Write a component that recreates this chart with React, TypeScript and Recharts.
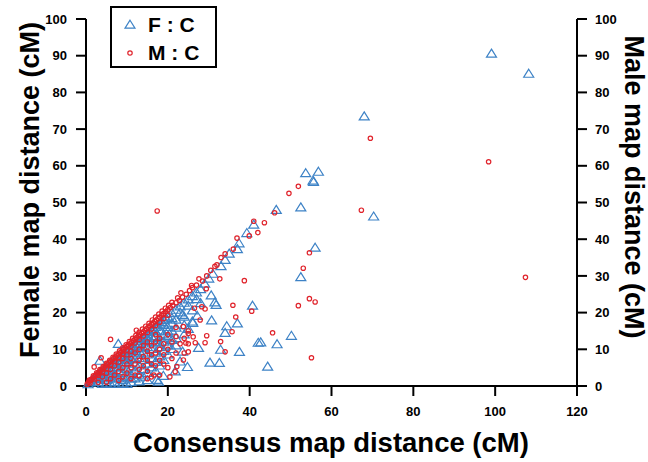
import React from 'react';
import { ScatterChart, Scatter, XAxis, YAxis, Legend, Label } from 'recharts';

// [consensus cM, female cM]
const fcAlongDiagonal: [number, number][] = [
  [0.5, 0.4], [1, 0.9], [1.5, 1.4], [2, 1.8], [2.5, 2.3], [3, 2.8], [3.5, 3.3], [4, 3.7],
  [4.5, 4.2], [5, 4.7], [5.5, 5.1], [6, 5.6], [6.5, 6.1], [7, 6.5], [7.5, 7.0], [8, 7.5],
  [8.5, 8.0], [9, 8.4], [9.5, 8.9], [10, 9.4], [10.5, 9.9], [11, 10.3], [11.5, 10.8], [12, 11.3],
  [12.5, 11.7], [13, 12.2], [13.5, 12.7], [14, 13.1], [14.5, 13.6], [15, 14.1], [15.5, 14.6],
  [16, 15], [16.5, 15.5], [17, 16], [17.5, 16.4], [18, 16.9], [18.5, 17.4], [19, 17.9],
  [19.5, 18.3], [20, 18.8], [21, 19.8], [22, 20.7], [23, 21.6], [24, 22.6], [25, 23.5],
  [26, 24.4], [27, 25.4], [28, 26.3], [29, 27.8], [30, 29.2], [31, 30.5], [33, 32.6],
  [34, 34.3], [35, 36], [37, 37.2], [37.4, 38.8], [39.3, 41.6], [41, 43.9],
  [3, 2], [5, 4], [7, 5.8], [9, 7.8], [11, 9.6], [13, 11.4], [15, 13], [17, 14.8], [19, 16.6],
  [21, 18.4], [23, 20], [25, 21.8], [27, 23.6],
];

const fcBelowDiagonal: [number, number][] = [
  [3, 1], [4, 0.5], [4, 2], [5, 1.5], [5, 3], [6, 0.5], [6, 2.5], [6, 4], [7, 1], [7, 3], [7, 5],
  [8, 0.5], [8, 2], [8, 4], [8, 6], [9, 1.5], [9, 3.5], [9, 5.5], [9, 7], [10, 0.5], [10, 2.5],
  [10, 4.5], [10, 6.5], [10, 8], [11, 1], [11, 3], [11, 5], [11, 7.5], [11, 9], [12, 2], [12, 4],
  [12, 6], [12, 8.5], [12, 10], [13, 3], [13, 5.5], [13, 7.5], [13, 9.5], [13, 11], [14, 2.5],
  [14, 4.5], [14, 7], [14, 9], [14, 11.5], [15, 3.5], [15, 6], [15, 8.5], [15, 10.5], [15, 12.5],
  [16, 5], [16, 7.5], [16, 10], [16, 12], [17, 4], [17, 6.5], [17, 9], [17, 11.5], [17, 13.5],
  [18, 5.5], [18, 8], [18, 10.5], [18, 13], [18, 15], [19, 7], [19, 9.5], [19, 12], [19, 14],
  [20, 8.5], [20, 11], [20, 13.5], [20, 16], [21, 10], [21, 12.5], [21, 15], [21, 17], [22, 11],
  [22, 13], [22, 18], [24, 14], [24, 16.5], [25, 15.5], [26, 17.5], [17.3, 1.6], [17.7, 1.1],
  [18.9, 2.7], [21.8, 3.9], [23, 6.6], [24.8, 5.1], [23.6, 9.3], [27.5, 10.3], [30.3, 6.3],
  [32.6, 6.2], [32.9, 9.8], [37.5, 9.2], [34, 14.4], [34.4, 16.2], [37, 17], [30.7, 17.8],
  [23.6, 19.3], [26.1, 17.1], [27.2, 19], [30.6, 24.6], [31.5, 22.7], [31.8, 22], [40.7, 21.8],
  [6, 3.2], [8, 5], [10, 7], [12, 7.2], [14, 10.2], [16, 13.4], [18, 11.8], [20, 14.8],
  [22, 15.8], [24, 18.8], [26, 20.5], [28, 22.5], [5, 0.8], [7, 2], [9, 0.8], [11, 2],
  [13, 1.2], [15, 1.5],
];

const fcOutliers: [number, number][] = [
  [3.4, 6.8], [7.9, 11.4], [44.4, 5.2], [42.1, 11.7], [42.7, 11.8], [46.7, 11.3], [50.2, 13.6],
  [46.5, 47.9], [52.5, 48.6], [53.7, 57.9], [56.8, 58.3], [55.5, 55.9], [55.6, 55.5],
  [56, 37.6], [52.5, 29.6], [68, 73.4], [70.3, 46.1], [99.1, 90.5], [108.2, 85],
];

// [consensus cM, male cM]
const mcAlongDiagonal: [number, number][] = [
  [0.3, 0.5], [0.6, 1], [1, 1.4], [1.3, 1.8], [1.7, 2.2], [2, 2.6], [2.4, 3], [2.8, 3.3],
  [3.2, 3.8], [3.6, 4.2], [4, 4.6], [4.4, 5], [4.8, 5.5], [5.2, 5.9], [5.6, 6.3], [6, 6.7],
  [6.4, 7.1], [6.8, 7.5], [7.2, 7.9], [7.6, 8.3], [8, 8.7], [8.4, 9.1], [8.8, 9.5], [9.2, 10],
  [9.6, 10.4], [10, 10.8], [10.4, 11.2], [10.8, 11.6], [11.2, 12], [11.6, 12.4], [12, 12.8],
  [12.4, 13.2], [12.8, 13.6], [13.2, 14], [13.6, 14.4], [14, 14.8], [14.4, 15.2], [14.8, 15.6],
  [15.2, 16], [15.6, 16.4], [16, 16.8], [16.4, 17.2], [16.8, 17.6], [17.2, 18], [17.6, 18.4],
  [18, 18.8], [18.5, 19.3], [19, 19.8], [19.5, 20.3], [20, 20.8], [20.6, 21.4], [21.2, 22],
  [22, 22.7], [22.8, 23.3], [23.6, 24.2], [24.5, 25], [25.3, 26], [26, 26.8], [27, 27.5],
  [28.5, 28.6], [29.5, 30], [30.5, 31.5], [31.5, 32.6], [32, 33], [33, 35], [34, 36],
  [36, 37.3], [36.9, 40.3], [39.9, 40.9], [41, 44.9], [43.6, 44.5], [46.1, 47.2],
  [49.6, 52.5], [51.9, 54.4], [42, 41.8],
  [1, 0.8], [2, 1.9], [3, 2.9], [4, 3.9], [5, 4.8], [6, 5.8], [7, 6.8], [8, 7.8], [9, 8.8],
  [10, 9.8], [11, 10.8], [12, 11.7], [13, 12.7], [14, 13.6], [15, 14.6], [16, 15.5], [17, 16.5],
  [18, 17.4], [19, 18.4], [20, 19.3],
  [0.8, 1.6], [1.8, 2.8], [2.6, 3.6], [3.4, 4.5], [4.2, 5.3], [5, 6.2], [5.8, 7], [6.6, 7.8],
  [7.4, 8.7], [8.2, 9.6], [9, 10.4], [9.8, 11.2], [10.6, 12.1], [11.4, 13], [12.2, 13.8],
  [13, 14.6], [13.8, 15.5], [14.6, 16.3], [15.4, 17.1], [16.2, 18], [17, 18.8], [17.8, 19.6],
  [18.6, 20.4], [19.4, 21.2], [20.2, 22], [21, 22.8], [22.4, 24], [23.2, 25.4], [25.8, 27.4],
  [27.6, 29.2],
];

const mcBelowDiagonal: [number, number][] = [
  [3, 1], [4, 2.5], [5, 1], [5, 3.5], [6, 2], [6, 4.5], [7, 3], [7, 5.5], [8, 1.5], [8, 4],
  [8, 6.5], [9, 2.5], [9, 5], [9, 7.5], [10, 3.5], [10, 6], [10, 8.5], [11, 2], [11, 5],
  [11, 7.5], [11, 9.5], [12, 3], [12, 6], [12, 9], [13, 4.5], [13, 7], [13, 10], [14, 5.5],
  [14, 8], [14, 11], [15, 4], [15, 7], [15, 9.5], [15, 12], [16, 6], [16, 8.5], [16, 11],
  [17, 5.5], [17, 9], [17, 12], [17, 14], [18, 7], [18, 10], [18, 13], [19, 6], [19, 8.5],
  [19, 11.5], [20, 5], [20, 10], [20, 14], [21, 7.5], [21, 12], [22, 9], [22, 13.5], [22, 16],
  [23, 11.5], [24, 9], [24, 13], [25, 11.5], [25, 15], [13, 2.8], [15, 2], [16, 2.5], [18, 3],
  [16.6, 3], [20.5, 2.5], [21.8, 3.9], [22.2, 5.3], [23.8, 7.1], [25, 9.3], [24.4, 11.7],
  [25, 14.3], [23.8, 16.2], [26.5, 21.2], [28.3, 21.6], [29.1, 21], [27.9, 18], [29.5, 13.7],
  [26.2, 13.4], [29.1, 11.8], [26.7, 11.8], [32.9, 12.1], [34, 9.3], [35.9, 22],
  [29.4, 26.5], [32.7, 29.2], [35.7, 14.8], [36.6, 18.8], [38.7, 28.7], [40.5, 20.4],
];

const mcOutliers: [number, number][] = [
  [2, 5.2], [3.7, 7.7], [6, 12.7], [12.3, 15.2], [17.4, 47.7], [45.6, 14.5], [51.9, 21.9],
  [54.6, 23.8], [56, 22.9], [54.6, 36.3], [53.1, 32.1], [55.1, 7.7], [67.3, 47.9],
  [69.5, 67.5], [98.4, 61.1], [107.4, 29.6],
];

const xTicks = [0, 20, 40, 60, 80, 100, 120];
const yTicks = [0, 10, 20, 30, 40, 50, 60, 70, 80, 90, 100];

const BLUE = '#3d82c6';
const RED = '#e0232b';
const FONT = '"Liberation Sans", Arial, sans-serif';

const toRows = (pts: [number, number][]) => pts.map(([x, y]) => ({ x, y }));
const fcData = toRows([...fcBelowDiagonal, ...fcAlongDiagonal, ...fcOutliers]);
const mcData = toRows([...mcBelowDiagonal, ...mcAlongDiagonal, ...mcOutliers]);

const Triangle = (props: any) => {
  const { cx, cy } = props;
  if (cx == null || cy == null) return null;
  return (
    <path
      d={`M${cx},${cy - 4.8}L${cx + 5},${cy + 3.2}L${cx - 5},${cy + 3.2}Z`}
      fill="none"
      stroke={BLUE}
      strokeWidth={1.2}
    />
  );
};

const Ring = (props: any) => {
  const { cx, cy } = props;
  if (cx == null || cy == null) return null;
  return <circle cx={cx} cy={cy} r={2.2} fill="none" stroke={RED} strokeWidth={1.2} />;
};

const tickStyle = { fontFamily: FONT, fontWeight: 700, fontSize: 13, fill: '#000' };

const LeftTitle = () => {
  const cx = 39;
  const cy = 190;
  return (
    <text
      x={cx}
      y={cy}
      transform={`rotate(-90, ${cx}, ${cy})`}
      textAnchor="middle"
      fontFamily={FONT}
      fontWeight={700}
      fontSize={27}
      fill="#000"
    >
      Female map distance (cM)
    </text>
  );
};

const RightTitle = () => {
  const cx = 625;
  const cy = 187;
  return (
    <text
      x={cx}
      y={cy}
      transform={`rotate(90, ${cx}, ${cy})`}
      textAnchor="middle"
      fontFamily={FONT}
      fontWeight={700}
      fontSize={27}
      fill="#000"
    >
      Male map distance (cM)
    </text>
  );
};

const BottomTitle = () => (
  <text
    x={331}
    y={452}
    textAnchor="middle"
    fontFamily={FONT}
    fontWeight={700}
    fontSize={27.5}
    fill="#000"
  >
    Consensus map distance (cM)
  </text>
);

const LegendBox = () => (
  <div
    style={{
      border: '2px solid #000',
      width: 107,
      height: 62,
      boxSizing: 'border-box',
      fontFamily: FONT,
      fontWeight: 700,
      fontSize: 21,
      color: '#000',
      background: '#fff',
    }}
  >
    <div style={{ display: 'flex', alignItems: 'center', height: 28, marginTop: 3 }}>
      <svg width={36} height={14}>
        <path d="M18,2.2L23,10.2L13,10.2Z" fill="none" stroke={BLUE} strokeWidth={1.2} />
      </svg>
      <span>F : C</span>
    </div>
    <div style={{ display: 'flex', alignItems: 'center', height: 27 }}>
      <svg width={36} height={14}>
        <circle cx={18} cy={7} r={2.2} fill="none" stroke={RED} strokeWidth={1.2} />
      </svg>
      <span>M : C</span>
    </div>
  </div>
);

export default function App() {
  return (
    <div style={{ position: 'absolute', left: 0, top: 0, width: 648, height: 462, background: '#fff' }}>
      <ScatterChart width={648} height={462} margin={{ top: 19, right: 0, bottom: 0, left: 0 }}>
        <XAxis
          type="number"
          dataKey="x"
          domain={[0, 120]}
          ticks={xTicks}
          height={76}
          axisLine={{ stroke: '#000', strokeWidth: 2 }}
          tickLine={{ stroke: '#000', strokeWidth: 2 }}
          tickSize={10}
          tickMargin={11}
          tick={tickStyle}
        >
          <Label content={BottomTitle} />
        </XAxis>
        <YAxis
          yAxisId="left"
          type="number"
          dataKey="y"
          domain={[0, 100]}
          ticks={yTicks}
          width={86}
          axisLine={{ stroke: '#000', strokeWidth: 2 }}
          tickLine={{ stroke: '#000', strokeWidth: 2 }}
          tickSize={10}
          tickMargin={9}
          tick={tickStyle}
        >
          <Label content={LeftTitle} />
        </YAxis>
        <YAxis
          yAxisId="right"
          orientation="right"
          type="number"
          dataKey="y"
          domain={[0, 100]}
          ticks={yTicks}
          width={71}
          axisLine={{ stroke: '#000', strokeWidth: 2 }}
          tickLine={{ stroke: '#000', strokeWidth: 2 }}
          tickSize={10}
          tickMargin={8}
          tick={tickStyle}
        >
          <Label content={RightTitle} />
        </YAxis>
        <Legend
          layout="horizontal"
          verticalAlign="middle"
          align="center"
          content={() => <LegendBox />}
          wrapperStyle={{ left: 110, top: 6, width: 107 }}
        />
        <Scatter name="F : C" data={fcData} yAxisId="left" shape={Triangle} isAnimationActive={false} />
        <Scatter name="M : C" data={mcData} yAxisId="right" shape={Ring} isAnimationActive={false} />
      </ScatterChart>
    </div>
  );
}
